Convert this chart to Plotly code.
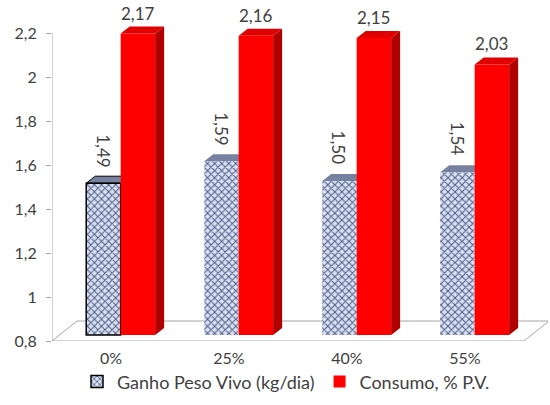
import plotly.graph_objects as go

# Data
categories = ["0%", "25%", "40%", "55%"]
ganho_peso = [1.49, 1.59, 1.50, 1.54]      # Ganho Peso Vivo (kg/dia)
consumo = [2.17, 2.16, 2.15, 2.03]          # Consumo, % P.V.
y_ticks = [0.8, 1.0, 1.2, 1.4, 1.6, 1.8, 2.0, 2.2]

# Geometry (pixel-based constants for the pseudo-3D look)
W, H = 550, 405
ML, MR, MT, MB = 52, 2, 8, 64
PX_X = 118.0          # pixels per category
PX_Y = 220.0          # pixels per y unit
Y0 = 0.8
x_rng = [-0.5, -0.5 + (W - ML - MR) / PX_X]
y_rng = [Y0, Y0 + (H - MT - MB) / PX_Y]
lift = 6 / PX_Y       # bars sit slightly behind the front edge
y2_rng = [y_rng[0] - lift, y_rng[1] - lift]

BW = 0.292            # bar width (category units)
OFF_B = -0.21         # offset of Ganho bar
OFF_R = OFF_B + BW    # offset of Consumo bar
DX = 9 / PX_X         # depth of bar, x
DY = 7 / PX_Y         # depth of bar, y
FDX = 25 / PX_X       # floor depth, x
FDY = 20 / PX_Y       # floor depth, y

GRAY = "#a6a6a6"
TXT = "#404040"
FONT = "Lato"

xs = list(range(len(categories)))

fig = go.Figure()
fig.add_trace(go.Bar(
    x=xs, y=[v - Y0 for v in ganho_peso], base=Y0, yaxis="y2",
    name="Ganho Peso Vivo (kg/dia)", width=BW, offset=OFF_B,
    marker=dict(color="#d9e0ee",
                line=dict(color="black", width=[1.5, 0, 0, 0]),
                pattern=dict(shape="x", fgcolor="#4a5a8c", bgcolor="#d9e0ee",
                             size=5, solidity=0.35, fillmode="replace")),
))
fig.add_trace(go.Bar(
    x=xs, y=[v - Y0 for v in consumo], base=Y0, yaxis="y2",
    name="Consumo, % P.V.", width=BW, offset=OFF_R,
    marker=dict(color="#ff0000", line=dict(width=0)),
))

shapes = []
# floor of the 3D box
fx0, fx1 = -0.5, 3.5
shapes.append(dict(
    type="path", xref="x", yref="y", layer="below",
    path=f"M {fx0} {Y0} L {fx1} {Y0} L {fx1 + FDX} {Y0 + FDY} "
         f"L {fx0 + FDX} {Y0 + FDY} Z",
    line=dict(color=GRAY, width=1), fillcolor="rgba(0,0,0,0)"))
# vertical axis line
shapes.append(dict(type="line", xref="x", yref="y", x0=-0.5, x1=-0.5,
                   y0=y_ticks[0], y1=y_ticks[-1], line=dict(color=GRAY, width=1)))
# x-axis boundary ticks
for b in [-0.5, 0.5, 1.5, 2.5, 3.5]:
    shapes.append(dict(type="line", xref="x", yref="y", ysizemode="pixel",
                       yanchor=Y0, x0=b, x1=b, y0=0, y1=-5,
                       line=dict(color=GRAY, width=1)))

for i, (g, c) in enumerate(zip(ganho_peso, consumo)):
    # top face of Ganho bar
    bl, br = i + OFF_B, i + OFF_B + BW
    shapes.append(dict(
        type="path", xref="x", yref="y2", layer="below",
        path=f"M {bl} {g} L {br} {g} L {br + DX} {g + DY} L {bl + DX} {g + DY} Z",
        fillcolor="#76829f",
        line=dict(color="black" if i == 0 else "#76829f", width=1 if i == 0 else 0)))
    # side and top faces of Consumo bar
    rl, rr = i + OFF_R, i + OFF_R + BW
    shapes.append(dict(
        type="path", xref="x", yref="y2", layer="above",
        path=f"M {rr} {Y0} L {rr} {c} L {rr + DX} {c + DY} L {rr + DX} {Y0 + DY} Z",
        fillcolor="#b00000", line=dict(width=0)))
    shapes.append(dict(
        type="path", xref="x", yref="y2", layer="above",
        path=f"M {rl} {c} L {rr} {c} L {rr + DX} {c + DY} L {rl + DX} {c + DY} Z",
        fillcolor="#e00000", line=dict(width=0)))

annotations = []
for i, (g, c) in enumerate(zip(ganho_peso, consumo)):
    annotations.append(dict(
        x=i + OFF_B + BW / 2, y=g, xref="x", yref="y2",
        text=f"{g:.2f}".replace(".", ","), textangle=90, showarrow=False,
        yanchor="bottom", xanchor="center", yshift=14,
        font=dict(family=FONT, size=17, color=TXT)))
    annotations.append(dict(
        x=i + OFF_R + BW / 2, y=c, xref="x", yref="y2",
        text=f"{c:.2f}".replace(".", ","), showarrow=False,
        yanchor="bottom", xanchor="center", yshift=8,
        font=dict(family=FONT, size=17, color=TXT)))

fig.update_layout(
    width=W, height=H, margin=dict(l=ML, r=MR, t=MT, b=MB),
    paper_bgcolor="white", plot_bgcolor="white",
    separators=",.",
    font=dict(family=FONT, size=16, color=TXT),
    barmode="overlay", showlegend=True,
    xaxis=dict(range=x_rng, tickvals=xs, ticktext=categories, ticks="",
               showgrid=False, showline=False, zeroline=False, automargin=False,
               tickfont=dict(size=16, color=TXT), ticklabelstandoff=6),
    yaxis=dict(range=y_rng, tickvals=y_ticks, ticks="outside", ticklen=5,
               tickcolor=GRAY, showgrid=False, showline=False, zeroline=False,
               automargin=False,
               tickfont=dict(size=16, color=TXT), ticklabelstandoff=6),
    yaxis2=dict(range=y2_rng, overlaying="y", visible=False, automargin=False),
    legend=dict(orientation="h", xref="container", yref="container",
                x=0.52, y=0.057, xanchor="center", yanchor="middle",
                font=dict(size=18, color=TXT), itemwidth=30,
                bgcolor="rgba(0,0,0,0)"),
    shapes=shapes, annotations=annotations,
)

fig.write_html("out.html")
